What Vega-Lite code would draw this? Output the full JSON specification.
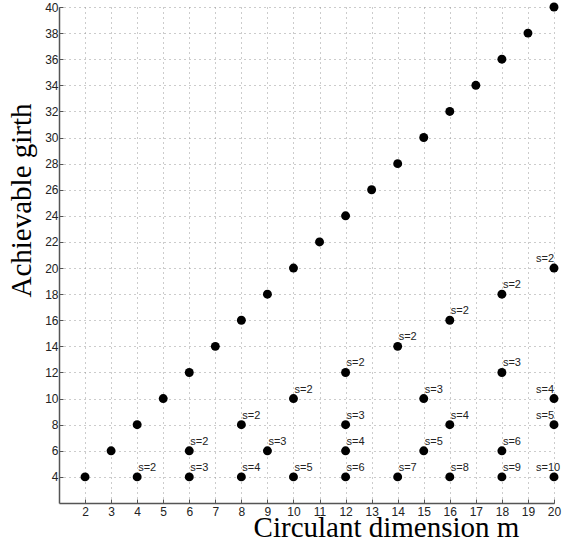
{
  "$schema": "https://vega.github.io/schema/vega-lite/v6.json",
  "width": 495,
  "height": 496,
  "autosize": "none",
  "padding": {"left": 59, "top": 7, "right": 8, "bottom": 38},
  "background": "white",
  "config": {
    "view": {"stroke": null},
    "axis": {
      "labelFont": "Liberation Sans",
      "labelFontSize": 12,
      "labelColor": "#222",
      "titleFont": "Liberation Serif",
      "titleFontSize": 29,
      "titleFontWeight": "normal",
      "titleColor": "#000",
      "domainColor": "#555",
      "domainWidth": 1.5,
      "tickColor": "#555",
      "gridColor": "#999",
      "gridDash": [1, 4],
      "gridWidth": 1,
      "gridOpacity": 1
    }
  },
  "data": {
    "values": [
      {"m": 2, "g": 4, "label": ""},
      {"m": 3, "g": 6, "label": ""},
      {"m": 4, "g": 8, "label": ""},
      {"m": 5, "g": 10, "label": ""},
      {"m": 6, "g": 12, "label": ""},
      {"m": 7, "g": 14, "label": ""},
      {"m": 8, "g": 16, "label": ""},
      {"m": 9, "g": 18, "label": ""},
      {"m": 10, "g": 20, "label": ""},
      {"m": 11, "g": 22, "label": ""},
      {"m": 12, "g": 24, "label": ""},
      {"m": 13, "g": 26, "label": ""},
      {"m": 14, "g": 28, "label": ""},
      {"m": 15, "g": 30, "label": ""},
      {"m": 16, "g": 32, "label": ""},
      {"m": 17, "g": 34, "label": ""},
      {"m": 18, "g": 36, "label": ""},
      {"m": 19, "g": 38, "label": ""},
      {"m": 20, "g": 40, "label": ""},
      {"m": 4, "g": 4, "label": "s=2"},
      {"m": 6, "g": 6, "label": "s=2"},
      {"m": 6, "g": 4, "label": "s=3"},
      {"m": 8, "g": 8, "label": "s=2"},
      {"m": 8, "g": 4, "label": "s=4"},
      {"m": 9, "g": 6, "label": "s=3"},
      {"m": 10, "g": 10, "label": "s=2"},
      {"m": 10, "g": 4, "label": "s=5"},
      {"m": 12, "g": 12, "label": "s=2"},
      {"m": 12, "g": 8, "label": "s=3"},
      {"m": 12, "g": 6, "label": "s=4"},
      {"m": 12, "g": 4, "label": "s=6"},
      {"m": 14, "g": 14, "label": "s=2"},
      {"m": 14, "g": 4, "label": "s=7"},
      {"m": 15, "g": 10, "label": "s=3"},
      {"m": 15, "g": 6, "label": "s=5"},
      {"m": 16, "g": 16, "label": "s=2"},
      {"m": 16, "g": 8, "label": "s=4"},
      {"m": 16, "g": 4, "label": "s=8"},
      {"m": 18, "g": 18, "label": "s=2"},
      {"m": 18, "g": 12, "label": "s=3"},
      {"m": 18, "g": 6, "label": "s=6"},
      {"m": 18, "g": 4, "label": "s=9"},
      {"m": 20, "g": 20, "label": "s=2"},
      {"m": 20, "g": 10, "label": "s=4"},
      {"m": 20, "g": 8, "label": "s=5"},
      {"m": 20, "g": 4, "label": "s=10"}
    ]
  },
  "encoding": {
    "x": {
      "field": "m",
      "type": "quantitative",
      "scale": {"domain": [1, 20], "nice": false, "zero": false},
      "axis": {
        "title": "Circulant dimension m",
        "values": [2, 3, 4, 5, 6, 7, 8, 9, 10, 11, 12, 13, 14, 15, 16, 17, 18, 19, 20],
        "tickSize": -4,
        "labelPadding": 7,
        "labelFlush": false,
        "titleX": 327,
        "titleY": 33,
        "titleAlign": "center",
        "titleBaseline": "alphabetic",
        "titleAnchor": null
      }
    },
    "y": {
      "field": "g",
      "type": "quantitative",
      "scale": {"domain": [2, 40], "nice": false, "zero": false},
      "axis": {
        "title": "Achievable girth",
        "values": [4, 6, 8, 10, 12, 14, 16, 18, 20, 22, 24, 26, 28, 30, 32, 34, 36, 38, 40],
        "tickSize": -4,
        "labelPadding": 5,
        "labelFlush": false,
        "titleAngle": -90,
        "titleX": -29,
        "titleY": 193,
        "titleAlign": "center",
        "titleBaseline": "alphabetic",
        "titleAnchor": null
      }
    }
  },
  "layer": [
    {
      "mark": {"type": "point", "filled": true, "shape": "circle", "size": 80, "color": "#000", "opacity": 1}
    },
    {
      "transform": [{"filter": "datum.label != '' && datum.m < 20"}],
      "mark": {"type": "text", "align": "left", "baseline": "alphabetic", "dx": 1, "dy": -6, "font": "Liberation Sans", "fontSize": 11, "color": "#222"},
      "encoding": {"text": {"field": "label"}}
    },
    {
      "transform": [{"filter": "datum.label != '' && datum.m == 20"}],
      "mark": {"type": "text", "align": "left", "baseline": "alphabetic", "dx": -18, "dy": -6, "font": "Liberation Sans", "fontSize": 11, "color": "#222"},
      "encoding": {"text": {"field": "label"}}
    }
  ]
}
